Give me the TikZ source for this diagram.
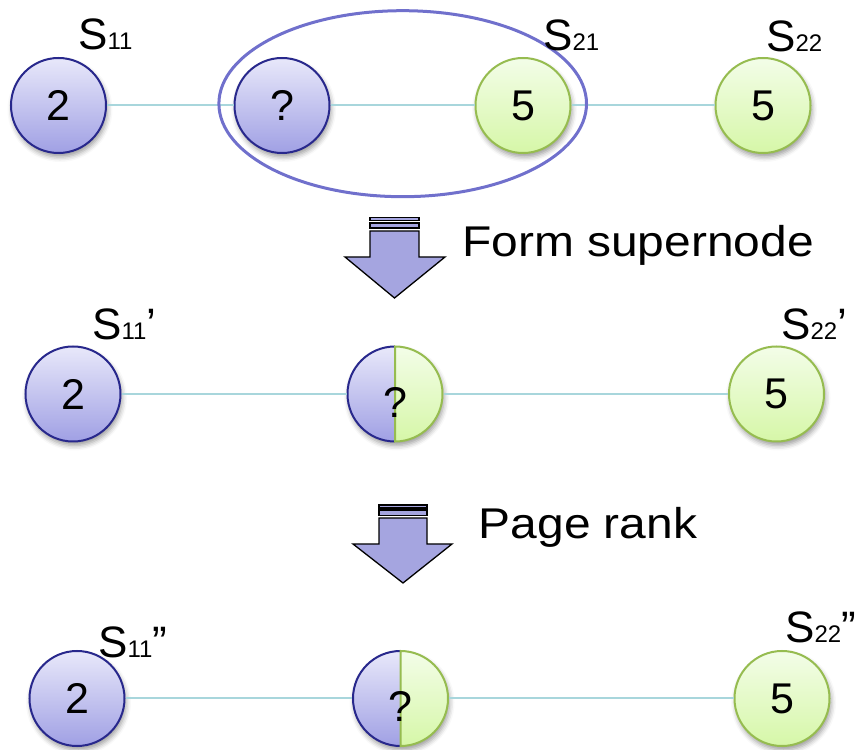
\documentclass[tikz,border=0pt]{standalone}
\usepackage{fontspec}
\setmainfont{Liberation Sans}
\usepackage{graphicx}
\usetikzlibrary{shapes.geometric,shadows.blur}
\definecolor{bluetop}{RGB}{232,232,250}
\definecolor{bluebot}{RGB}{160,160,228}
\definecolor{greentop}{RGB}{243,253,232}
\definecolor{greenbot}{RGB}{214,247,168}
\definecolor{blueline}{RGB}{40,40,140}
\definecolor{greenline}{RGB}{150,188,80}
\definecolor{edgecol}{RGB}{168,214,220}
\definecolor{ellcol}{RGB}{112,112,204}
\definecolor{arrowfill}{RGB}{165,165,224}
\begin{document}
\begin{tikzpicture}[x=1pt,y=1pt,
  ball/.style={circle, minimum size=95pt, inner sep=0pt, line width=2pt,
    font=\fontsize{43}{43}\selectfont,
    blur shadow={shadow xshift=1.5pt, shadow yshift=-4pt, shadow blur radius=5pt, shadow opacity=40}},
  blueball/.style={ball, draw=blueline, top color=bluetop, bottom color=bluebot},
  greenball/.style={ball, draw=greenline, top color=greentop, bottom color=greenbot},
  splitball/.style={ball, fill=white},
  qmark/.style={inner sep=0pt, font=\fontsize{43}{43}\selectfont},
  edge/.style={draw=edgecol, line width=2pt},
  lab/.style={anchor=base west, inner sep=0pt, font=\fontsize{44}{44}\selectfont},
  capt/.style={anchor=base west, inner sep=0pt, font=\fontsize{43}{43}\selectfont},
  arrowbox/.style={fill=arrowfill, draw=black, line width=1.3pt, line join=miter},
  superell/.style={draw=ellcol, line width=3pt, ellipse, minimum width=367.6pt, minimum height=186pt, inner sep=0pt}
]
\useasboundingbox (0,0) rectangle (864,749);

% ---- row 1
\node[blueball] (a1) at (58.5,643.5) {\raisebox{-2pt}{2}};
\node[blueball] (b1) at (282,643.5) {\raisebox{-2.5pt}{?}};
\node[greenball] (c1) at (523,643.5) {\raisebox{-2pt}{5}};
\node[greenball] (d1) at (763,643.5) {\raisebox{-2pt}{5}};
\draw[edge] (a1) -- (b1);
\draw[edge] (b1) -- (c1);
\draw[edge] (c1) -- (d1);
\node[superell] (super) at (402.7,645.3) {};
\node[lab] (l11) at (78,699) {S{\fontsize{24}{24}\selectfont 11}};
\node[lab] (l21) at (543,698) {S{\fontsize{24}{24}\selectfont 21}};
\node[lab] (l22) at (766,697) {S{\fontsize{24}{24}\selectfont 22}};

% ---- arrow 1
\draw[arrowbox] (370,531.5) rectangle (419,528.5);
\draw[arrowbox] (370,526) rectangle (419,521);
\draw[arrowbox] (370,518) -- (419,518) -- (419,492) -- (445,492) -- (394.5,451)
  -- (345,492) -- (370,492) -- cycle;
\node[capt] (t1) at (462,492) {\scalebox{1.115}[1]{Form supernode}};

% ---- row 2
\node[blueball] (a2) at (73,355) {\raisebox{-2pt}{2}};
\node[splitball] (b2) at (395,355) {};
\shade[top color=bluetop, bottom color=bluebot] (b2.center) ++(0,-47.5) arc[start angle=-90, end angle=-270, radius=47.5] -- cycle;
\shade[top color=greentop, bottom color=greenbot] (b2.center) ++(0,47.5) arc[start angle=90, end angle=-90, radius=47.5] -- cycle;
\draw[blueline, line width=2pt] (b2.center) ++(0,-47.5) arc[start angle=-90, end angle=-270, radius=47.5];
\draw[greenline, line width=2pt] (b2.center) ++(0,47.5) arc[start angle=90, end angle=-90, radius=47.5] -- cycle;
\node[qmark] (q2) at ([yshift=-8pt]b2.center) {?};
\node[greenball] (c2) at (776.5,355) {\raisebox{-2pt}{5}};
\draw[edge] (a2) -- (b2);
\draw[edge] (b2) -- (c2);
\node[lab] (l11p) at (92,409) {S{\fontsize{24}{24}\selectfont 11}’};
\node[lab] (l22p) at (781,409) {S{\fontsize{24}{24}\selectfont 22}’};

% ---- arrow 2
\draw[arrowbox] (379,244) rectangle (427,241);
\draw[arrowbox] (379,239) rectangle (427,233.5);
\draw[arrowbox] (379,231) -- (427,231) -- (427,205) -- (452,205) -- (403,166)
  -- (353,205) -- (379,205) -- cycle;
\node[capt] (t2) at (478.5,210) {\scalebox{1.115}[1]{Page rank}};

% ---- row 3
\node[blueball] (a3) at (77,50.5) {\raisebox{-2pt}{2}};
\node[splitball] (b3) at (400.5,50.5) {};
\shade[top color=bluetop, bottom color=bluebot] (b3.center) ++(0,-47.5) arc[start angle=-90, end angle=-270, radius=47.5] -- cycle;
\shade[top color=greentop, bottom color=greenbot] (b3.center) ++(0,47.5) arc[start angle=90, end angle=-90, radius=47.5] -- cycle;
\draw[blueline, line width=2pt] (b3.center) ++(0,-47.5) arc[start angle=-90, end angle=-270, radius=47.5];
\draw[greenline, line width=2pt] (b3.center) ++(0,47.5) arc[start angle=90, end angle=-90, radius=47.5] -- cycle;
\node[qmark] (q3) at ([yshift=-8pt]b3.center) {?};
\node[greenball] (c3) at (782,50.5) {\raisebox{-2pt}{5}};
\draw[edge] (a3) -- (b3);
\draw[edge] (b3) -- (c3);
\node[lab] (l11pp) at (98,91) {S{\fontsize{24}{24}\selectfont 11}”};
\node[lab] (l22pp) at (785,106) {S{\fontsize{24}{24}\selectfont 22}”};
\end{tikzpicture}
\end{document}
